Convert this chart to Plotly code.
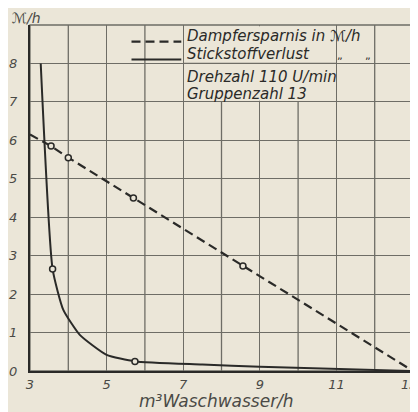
import plotly.graph_objects as go

# Dampfersparnis (dashed)
dampf_x = [3.0, 3.55, 4.0, 5.7, 8.56, 13.0]
dampf_y = [6.15, 5.85, 5.55, 4.5, 2.73, 0.0]
dampf_mx = [3.55, 4.0, 5.7, 8.56]
dampf_my = [5.85, 5.55, 4.5, 2.73]

# Stickstoffverlust (solid)
stick_x = [3.28, 3.59, 3.87, 4.3, 5.0, 5.74, 7.5, 9.0, 13.0]
stick_y = [8.0, 2.65, 1.59, 0.94, 0.42, 0.25, 0.17, 0.11, 0.0]
stick_mx = [3.59, 5.74]
stick_my = [2.65, 0.25]

x_ticks = [3, 5, 7, 9, 11, 13]
x_ticktext = ["3", "5", "7", "9", "11", "13"]
y_ticks = [0, 1, 2, 3, 4, 5, 6, 7, 8]

BG = "#ebe6d8"
GRID = "#6e6d66"
INK = "#2a2a28"
TXT = "#4a4a46"
FONT = "DejaVu Sans"

fig = go.Figure()

fig.add_trace(go.Scatter(x=dampf_x, y=dampf_y, mode="lines",
                         line=dict(color=INK, width=2.2, dash="9px,5px"),
                         showlegend=False, hoverinfo="skip"))
fig.add_trace(go.Scatter(x=dampf_mx, y=dampf_my, mode="markers",
                         marker=dict(symbol="circle", size=6, color=BG,
                                     line=dict(width=1.5, color=INK)),
                         showlegend=False, hoverinfo="skip"))
fig.add_trace(go.Scatter(x=stick_x, y=stick_y, mode="lines",
                         line=dict(color=INK, width=2, shape="spline", smoothing=0.5),
                         showlegend=False, hoverinfo="skip"))
fig.add_trace(go.Scatter(x=stick_mx, y=stick_my, mode="markers",
                         marker=dict(symbol="circle", size=6, color=BG,
                                     line=dict(width=1.5, color=INK)),
                         showlegend=False, hoverinfo="skip"))

shapes = []
# legend panel masking grid
shapes.append(dict(type="rect", xref="x", yref="y", x0=7.03, x1=10.97, y0=7.03, y1=8.97,
                   fillcolor=BG, line=dict(width=0), layer="between"))
shapes.append(dict(type="line", xref="x", yref="y", x0=7, x1=11, y0=8, y1=8,
                   line=dict(color=GRID, width=1.3), layer="between"))
# extra x gridlines at even values (ticks only at odd)
for v in [4, 6, 8, 10, 12]:
    y_top = 7 if v in (8, 10) else 9
    shapes.append(dict(type="line", xref="x", yref="y", x0=v, x1=v, y0=0, y1=y_top,
                       line=dict(color=GRID, width=1.3), layer="between"))
shapes.append(dict(type="rect", xref="paper", yref="paper", x0=0, x1=1, y0=0, y1=1,
                   line=dict(color=GRID, width=1.3), layer="between"))
# legend samples
shapes.append(dict(type="line", xref="x", yref="y", x0=5.65, x1=6.95, y0=8.57, y1=8.57,
                   line=dict(color=INK, width=2.2, dash="9px,5px")))
shapes.append(dict(type="line", xref="x", yref="y", x0=5.65, x1=6.95, y0=8.1, y1=8.1,
                   line=dict(color=INK, width=2)))

ann = []
legend_rows = [
    ("Dampfersparnis in ℳ/h", 8.72),
    ("Stickstoffverlust", 8.25),
    ("Drehzahl 110 U/min", 7.64),
    ("Gruppenzahl 13", 7.2),
]
for t, yy in legend_rows:
    ann.append(dict(x=7.05, y=yy, xref="x", yref="y", text="<i>%s</i>" % t,
                    showarrow=False, xanchor="left", yanchor="middle",
                    font=dict(family=FONT, size=15, color=INK)))
for xx in [11.09, 11.82]:
    ann.append(dict(x=xx, y=8.2, xref="x", yref="y", text="„", showarrow=False,
                    xanchor="center", yanchor="middle",
                    font=dict(family=FONT, size=11, color=INK)))
ann.append(dict(x=-0.01, y=1.0, xref="paper", yref="paper", text="<i>ℳ/h</i>",
                showarrow=False, xanchor="center", yanchor="middle", yshift=7,
                font=dict(family=FONT, size=14, color=TXT)))
ann.append(dict(x=0.486, y=0, xref="paper", yref="paper", text="<i>m³Waschwasser/h</i>",
                showarrow=False, xanchor="center", yanchor="middle", yshift=-30,
                font=dict(family=FONT, size=17, color=TXT)))

# last x tick label sits against the right edge: drawn at the axis position, nudged left
x_labels = ["<i>%s</i>" % v for v in x_ticktext]
ann.append(dict(x=x_ticks[-1], y=0, xref="x", yref="paper", text=x_labels[-1],
                showarrow=False, xanchor="center", yanchor="middle",
                xshift=-4, yshift=-13,
                font=dict(family=FONT, size=13, color=TXT)))
x_labels[-1] = ""

# The page body adds an 8px offset; margins compensate for it.
fig.update_layout(
    width=418, height=412,
    margin=dict(l=22, r=13, t=17, b=49, autoexpand=False),
    paper_bgcolor=BG, plot_bgcolor=BG,
    shapes=shapes, annotations=ann,
    xaxis=dict(range=[3, 13], tickmode="array", tickvals=x_ticks,
               ticktext=x_labels,
               showgrid=True, gridcolor=GRID, gridwidth=1.3,
               showline=True, linecolor=INK, linewidth=2,
               ticks="", zeroline=False, automargin=False,
               tickfont=dict(family=FONT, size=13, color=TXT), fixedrange=True),
    yaxis=dict(range=[0, 9], tickmode="array", tickvals=y_ticks,
               ticktext=["<i>%d</i>" % v for v in y_ticks],
               showgrid=True, gridcolor=GRID, gridwidth=1.3,
               showline=True, linecolor=INK, linewidth=2,
               ticks="", zeroline=False, automargin=False, ticklabelstandoff=8,
               tickfont=dict(family=FONT, size=13, color=TXT), fixedrange=True),
)

fig.write_html("out.html")
